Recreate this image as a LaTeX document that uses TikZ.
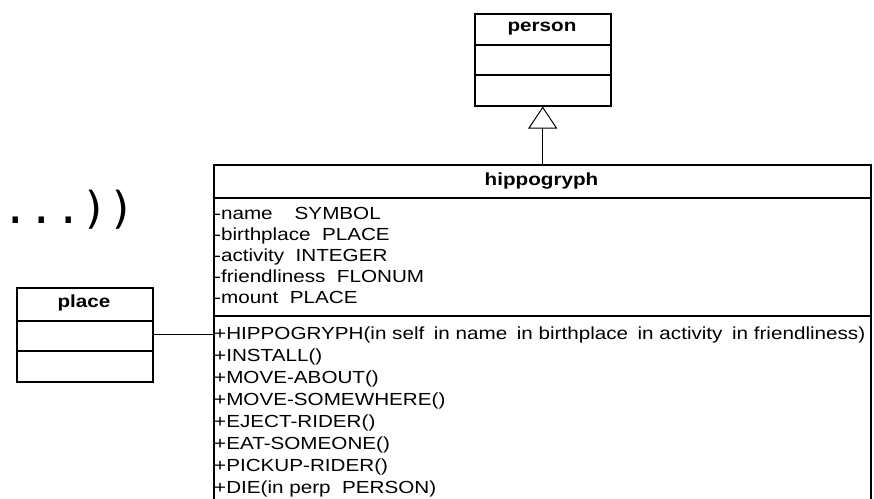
\documentclass[tikz,border=0pt]{standalone}
\usepackage{fontspec}
\setmainfont[FakeStretch=1.18]{Liberation Sans}
\newfontfamily\dotsfont{DejaVu Sans Mono}
\usetikzlibrary{arrows.meta}
\begin{document}
\begin{tikzpicture}[x=1pt,y=-1pt,
  box/.style={draw, line width=1.5pt, rectangle, inner sep=0pt, anchor=north west},
  sep/.style={line width=1.5pt},
  title/.style={font=\fontsize{17.5}{20}\selectfont\bfseries, inner sep=0pt},
  row/.style={font=\fontsize{17.5}{20}\selectfont, anchor=base west, inner sep=0pt},
  conn/.style={line width=1pt}]
\useasboundingbox (0,0) rectangle (874,498);
\clip (0,0) rectangle (874,498);
% person
\node[box, minimum width=136pt, minimum height=92pt] (person) at (474,13) {};
\draw[sep] (474,45) -- (610,45);
\draw[sep] (474,75) -- (610,75);
\node[title] (persontitle) at (542,29) {person};
% hippogryph
\node[box, minimum width=657pt, minimum height=346pt] (hippo) at (213,164) {};
\draw[sep] (213,198) -- (870,198);
\draw[sep] (213,316) -- (870,316);
\node[title] (hippotitle) at (541.5,181) {hippogryph};
\node[row] (a1) at (214,219) {-name\hspace{22pt}SYMBOL};
\node[row] (a2) at (214,240) {-birthplace\ \ PLACE};
\node[row] (a3) at (214,261) {-activity\ \ INTEGER};
\node[row] (a4) at (214,282) {-friendliness\ \ FLONUM};
\node[row] (a5) at (214,303) {-mount\ \ PLACE};
\node[row] (o1) at (214,339) {+HIPPOGRYPH(in self\hspace{9.5pt}in name\hspace{9.5pt}in birthplace\hspace{9.5pt}in activity\hspace{9.5pt}in friendliness)};
\node[row] (o2) at (214,361) {+INSTALL()};
\node[row] (o3) at (214,383) {+MOVE-ABOUT()};
\node[row] (o4) at (214,405) {+MOVE-SOMEWHERE()};
\node[row] (o5) at (214,427) {+EJECT-RIDER()};
\node[row] (o6) at (214,449) {+EAT-SOMEONE()};
\node[row] (o7) at (214,471) {+PICKUP-RIDER()};
\node[row] (o8) at (214,493) {+DIE(in perp\ \ PERSON)};
% place
\node[box, minimum width=136pt, minimum height=94pt] (place) at (16,287) {};
\draw[sep] (16,321) -- (152,321);
\draw[sep] (16,351) -- (152,351);
\node[title] (placetitle) at (84,303) {place};
% connectors
\draw[conn, -{Triangle[open, length=22pt, width=29pt, line width=1pt]}] (person.south |- hippo.north) -- (person.south);
\draw[conn] (place.east) -- (place.east -| hippo.west);
% dots
\node[font=\dotsfont\fontsize{44}{50}\selectfont, anchor=base west, inner sep=0pt] (ellip) at (2,223) {...))};
\end{tikzpicture}
\end{document}
